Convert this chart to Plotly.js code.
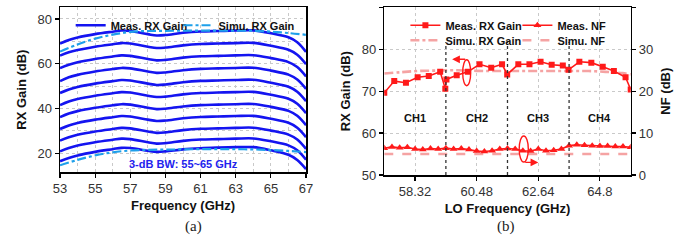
<!DOCTYPE html>
<html>
<head>
<meta charset="utf-8">
<script src="https://cdn.plot.ly/plotly-3.0.1.min.js"></script>
<style>html,body{margin:0;padding:0;background:#fff}#chart{width:693px;height:250px}</style>
</head>
<body>
<div id="chart"></div>
<script>
// ---------- (a) RX gain vs frequency ----------
const freqA = [53, 53.5, 54, 55, 56, 56.5, 57, 58, 58.5, 59, 60, 61, 62, 63, 64, 65, 66, 66.5, 67];
const measGain1  = [69.0, 70.6, 71.7, 73.2, 74.3, 74.8, 74.6, 73.2, 72.6, 72.8, 73.8, 74.4, 74.6, 74.8, 74.9, 73.6, 71.8, 69.6, 65.3];
const measGain2  = [63.6, 65.1, 66.1, 67.6, 68.7, 69.2, 69.0, 67.6, 67.0, 67.2, 68.2, 68.8, 69.0, 69.2, 69.3, 68.0, 66.2, 64.0, 59.8];
const measGain3  = [58.0, 59.5, 60.6, 62.1, 63.2, 63.7, 63.5, 62.1, 61.5, 61.7, 62.7, 63.3, 63.5, 63.7, 63.8, 62.5, 60.7, 58.5, 54.3];
const measGain4  = [52.2, 53.9, 55.0, 56.5, 57.6, 58.1, 57.9, 56.5, 55.9, 56.1, 57.1, 57.7, 57.9, 58.1, 58.2, 56.9, 55.1, 52.9, 48.7];
const measGain5  = [46.9, 48.5, 49.6, 51.1, 52.2, 52.7, 52.5, 51.1, 50.5, 50.7, 51.7, 52.3, 52.5, 52.7, 52.8, 51.5, 49.7, 47.5, 43.3];
const measGain6  = [41.5, 43.1, 44.2, 45.7, 46.8, 47.3, 47.1, 45.7, 45.1, 45.3, 46.3, 46.9, 47.1, 47.3, 47.4, 46.1, 44.3, 42.1, 37.9];
const measGain7  = [36.1, 37.7, 38.8, 40.3, 41.4, 41.9, 41.7, 40.3, 39.7, 39.9, 40.9, 41.5, 41.7, 41.9, 42.0, 40.7, 38.9, 36.7, 32.5];
const measGain8  = [30.8, 32.4, 33.5, 35.0, 36.1, 36.6, 36.4, 35.0, 34.4, 34.6, 35.6, 36.2, 36.4, 36.6, 36.7, 35.4, 33.6, 31.4, 27.2];
const measGain9  = [25.6, 27.1, 28.2, 29.7, 30.8, 31.3, 31.1, 29.7, 29.1, 29.3, 30.3, 30.9, 31.1, 31.3, 31.4, 30.1, 28.3, 26.1, 21.9];
const measGain10 = [20.8, 22.3, 23.4, 24.9, 26.0, 26.5, 26.3, 24.9, 24.3, 24.5, 25.5, 26.1, 26.3, 26.5, 26.6, 25.3, 23.5, 21.3, 17.1];
const measGain11 = [16.4, 17.9, 19.0, 20.6, 21.8, 22.4, 22.3, 21.1, 20.6, 20.8, 21.7, 22.2, 22.5, 22.7, 22.7, 21.3, 19.3, 17.0, 12.9];
const freqSim = [53, 54, 55, 56, 57, 58, 59, 60, 61, 62, 63, 64, 65, 66, 67];
const simuGainTop = [65.4, 68.6, 71.2, 73.0, 74.2, 74.6, 74.7, 74.8, 74.8, 74.8, 74.8, 74.7, 74.3, 73.7, 72.9];
const simuGainBot = [14.6, 17.0, 19.0, 20.4, 21.2, 21.5, 21.6, 21.7, 21.8, 21.8, 21.8, 21.7, 21.4, 21.0, 20.5];
const freqTicksA = [53, 55, 57, 59, 61, 63, 65, 67];

// ---------- (b) RX gain & NF vs LO frequency ----------
const loX = [57.24, 57.59, 58.00, 58.41, 58.80, 59.20, 59.38, 59.42, 59.78, 60.17, 60.58, 60.99, 61.37, 61.55, 61.94, 62.33, 62.72, 63.11, 63.50, 63.70, 64.08, 64.50, 64.90, 65.29, 65.70, 65.88];
const loGain = [69.6, 72.4, 72.0, 73.3, 73.6, 74.6, 70.6, 72.8, 73.8, 74.6, 76.4, 75.6, 76.4, 74.0, 76.4, 76.4, 77.0, 76.3, 76.1, 75.1, 77.0, 76.8, 75.8, 74.8, 73.3, 70.4];
const simLoX = [57.24, 57.8, 58.4, 59.0, 59.6, 60.2, 60.8, 61.4, 62.0, 62.6, 63.2, 63.8, 64.4, 65.0, 65.6, 65.88];
const simLoGain = [74.2, 74.5, 74.8, 74.9, 75.0, 74.9, 74.8, 74.8, 74.8, 74.8, 74.8, 74.8, 74.8, 74.6, 74.3, 74.0];
const nfX = [57.24, 57.51, 57.78, 58.05, 58.32, 58.59, 58.86, 59.13, 59.40, 59.67, 59.94, 60.21, 60.48, 60.75, 61.02, 61.29, 61.56, 61.83, 62.10, 62.37, 62.64, 62.91, 63.18, 63.45, 63.72, 63.99, 64.26, 64.53, 64.80, 65.07, 65.34, 65.61, 65.88];
const nfMeas = [6.4, 6.7, 6.5, 6.6, 6.2, 6.1, 6.3, 6.2, 6.4, 6.2, 6.3, 6.1, 5.7, 5.6, 5.8, 6.2, 6.3, 6.2, 5.8, 5.7, 6.2, 5.8, 5.9, 6.2, 7.0, 7.2, 7.1, 7.0, 6.9, 6.9, 6.8, 6.8, 6.6];
const simNfX = [57.24, 59.40, 61.56, 63.72, 65.88];
const simNf = [5.0, 5.0, 4.9, 5.0, 5.0];
const chBounds = [59.40, 61.56, 63.72];
const chCenters = [58.32, 60.48, 62.64, 64.80];
const chNames = ['CH1', 'CH2', 'CH3', 'CH4'];
const loTicks = [58.32, 60.48, 62.64, 64.8];
const loTickText = ['58.32', '60.48', '62.64', '64.8'];

const FONT = 'Liberation Sans, Arial, sans-serif';
const BLUE = '#1414f0';
const LBLUE = '#1ea0ea';
const RED = '#ff1a1a';
const PINK = '#f5a3a3';
const GRID = '#c9c9c9';

const measSets = [measGain1, measGain2, measGain3, measGain4, measGain5, measGain6, measGain7, measGain8, measGain9, measGain10, measGain11];
const traces = [];
measSets.forEach((ys, i) => {
  traces.push({x: freqA, y: ys, type: 'scatter', mode: 'lines', name: 'Meas. RX Gain',
    showlegend: i === 0, legendgroup: 'meas', line: {color: BLUE, width: 2.6, shape: 'spline', smoothing: 1},
    xaxis: 'x', yaxis: 'y', legend: 'legend'});
});
[simuGainTop, simuGainBot].forEach((ys, i) => {
  traces.push({x: freqSim, y: ys, type: 'scatter', mode: 'lines', name: 'Simu. RX Gain',
    showlegend: i === 0, legendgroup: 'simu', line: {color: LBLUE, width: 2.2, dash: 'dashdot', shape: 'spline', smoothing: 1},
    xaxis: 'x', yaxis: 'y', legend: 'legend4'});
});
// right chart
traces.push({x: simLoX, y: simLoGain, type: 'scatter', mode: 'lines', name: 'Simu. RX Gain',
  line: {color: PINK, width: 2.6, dash: 'dashdot', shape: 'spline'}, xaxis: 'x2', yaxis: 'y2', legend: 'legend3'});
traces.push({x: simNfX, y: simNf, type: 'scatter', mode: 'lines', name: 'Simu. NF',
  line: {color: PINK, width: 2.6, dash: 'dash'}, xaxis: 'x2', yaxis: 'y3', legend: 'legend3'});
traces.push({x: loX, y: loGain, type: 'scatter', mode: 'lines+markers', name: 'Meas. RX Gain',
  line: {color: RED, width: 1.6}, marker: {symbol: 'square', size: 6, color: RED},
  xaxis: 'x2', yaxis: 'y2', legend: 'legend2'});
traces.push({x: nfX, y: nfMeas, type: 'scatter', mode: 'lines+markers', name: 'Meas. NF',
  line: {color: RED, width: 1.6}, marker: {symbol: 'triangle-up', size: 7, color: RED},
  xaxis: 'x2', yaxis: 'y3', legend: 'legend2'});

const tickFont = {family: FONT, size: 13, color: '#333'};
const titleFont = {family: FONT, size: 13, color: '#111', weight: 'bold'};
const legFont = {family: FONT, size: 11, color: '#111', weight: 'bold'};
const axBase = {showline: true, linecolor: '#000', linewidth: 1.5, ticks: 'outside', ticklen: 4, tickwidth: 1.2,
  tickcolor: '#000', zeroline: false, tickfont: tickFont, automargin: false, showgrid: true,
  gridcolor: GRID, griddash: 'dot', gridwidth: 1};

const shapes = [];
// white backing behind the legends (hides grid, stays under traces)
shapes.push({type: 'rect', xref: 'paper', yref: 'paper', x0: 0.0866, x1: 0.4416, y0: 0.888, y1: 0.9708,
  layer: 'between', line: {width: 0}, fillcolor: '#fff'});
shapes.push({type: 'rect', xref: 'paper', yref: 'paper', x0: 0.5545, x1: 0.9101, y0: 0.832, y1: 0.9708,
  layer: 'between', line: {width: 0}, fillcolor: '#fff'});
chBounds.forEach(b => shapes.push({type: 'line', xref: 'x2', yref: 'y2', x0: b, x1: b, y0: 50, y1: 81.7,
  line: {color: '#333', width: 1.3, dash: 'dot'}}));
shapes.push({type: 'circle', xref: 'x2', yref: 'y2', x0: 59.99, x1: 60.27, y0: 71.3, y1: 77.5, line: {color: RED, width: 1.4}});
shapes.push({type: 'circle', xref: 'x2', yref: 'y3', x0: 61.97, x1: 62.29, y0: 3.1, y1: 9.3, line: {color: RED, width: 1.4}});

const annotations = [];
chNames.forEach((n, i) => annotations.push({xref: 'x2', yref: 'y2', x: chCenters[i], y: 63.6, text: n, showarrow: false,
  font: {family: FONT, size: 11, color: '#111', weight: 'bold'}}));
annotations.push({xref: 'x2', yref: 'y2', x: 59.62, y: 77.6, ax: 60.13, ay: 77.6, axref: 'x2', ayref: 'y2', text: '',
  showarrow: true, arrowhead: 2, arrowsize: 1.1, arrowwidth: 1.4, arrowcolor: RED});
annotations.push({xref: 'x2', yref: 'y3', x: 62.64, y: 3.0, ax: 62.13, ay: 3.0, axref: 'x2', ayref: 'y3', text: '',
  showarrow: true, arrowhead: 2, arrowsize: 1.1, arrowwidth: 1.4, arrowcolor: RED});
annotations.push({xref: 'x', yref: 'y', x: 60.0, y: 15.1, text: '3-dB BW: 55~65 GHz', showarrow: false,
  font: {family: FONT, size: 11, color: '#2222ee', weight: 'bold'}});
annotations.push({xref: 'paper', yref: 'paper', x: 0.264, y: 0.052, text: '(a)', showarrow: false,
  font: {family: 'Liberation Serif, Times New Roman, serif', size: 15, color: '#222'}});
annotations.push({xref: 'paper', yref: 'paper', x: 0.746, y: 0.052, text: '(b)', showarrow: false,
  font: {family: 'Liberation Serif, Times New Roman, serif', size: 15, color: '#222'}});

const legBase = {orientation: 'h', xanchor: 'left', yanchor: 'top', bgcolor: 'rgba(0,0,0,0)', font: legFont, itemwidth: 30};
const layout = {
  width: 693, height: 250, margin: {l: 0, r: 0, t: 0, b: 0}, paper_bgcolor: '#fff', plot_bgcolor: '#fff',
  font: {family: FONT},
  xaxis: Object.assign({}, axBase, {domain: [0.0866, 0.4416], range: [53, 67], tickvals: freqTicksA, mirror: true,
    anchor: 'y', minor: {dtick: 1, tick0: 53, showgrid: true, gridcolor: GRID, griddash: 'dot', ticks: ''},
    title: {text: 'Frequency (GHz)', font: titleFont, standoff: 6}}),
  yaxis: Object.assign({}, axBase, {domain: [0.312, 0.9708], range: [11.6, 85.2], tick0: 0, dtick: 20, mirror: true,
    anchor: 'x', minor: {dtick: 10, tick0: 0, showgrid: true, gridcolor: GRID, griddash: 'dot', ticks: ''},
    title: {text: 'RX Gain (dB)', font: titleFont, standoff: 8}}),
  xaxis2: Object.assign({}, axBase, {domain: [0.5545, 0.9101], range: [57.24, 65.88], tickvals: loTicks, ticktext: loTickText,
    mirror: true, anchor: 'y2', title: {text: 'LO Frequency (GHz)', font: titleFont, standoff: 6}}),
  yaxis2: Object.assign({}, axBase, {domain: [0.30, 0.9708], range: [50, 90], dtick: 10, anchor: 'x2',
    title: {text: 'RX Gain (dB)', font: titleFont, standoff: 8}}),
  yaxis3: Object.assign({}, axBase, {range: [0, 40], dtick: 10, overlaying: 'y2', side: 'right', anchor: 'x2', showgrid: false,
    title: {text: 'NF (dB)', font: titleFont, standoff: 8}}),
  legend: Object.assign({}, legBase, {x: 0.102, y: 0.957}),
  legend4: Object.assign({}, legBase, {x: 0.2576, y: 0.957}),
  legend2: Object.assign({}, legBase, {x: 0.585, y: 0.957, entrywidth: 67, traceorder: 'normal'}),
  legend3: Object.assign({}, legBase, {x: 0.585, y: 0.897, entrywidth: 67, traceorder: 'normal'}),
  shapes: shapes,
  annotations: annotations
};

Plotly.newPlot('chart', traces, layout, {staticPlot: true, displayModeBar: false});
</script>
</body>
</html>
